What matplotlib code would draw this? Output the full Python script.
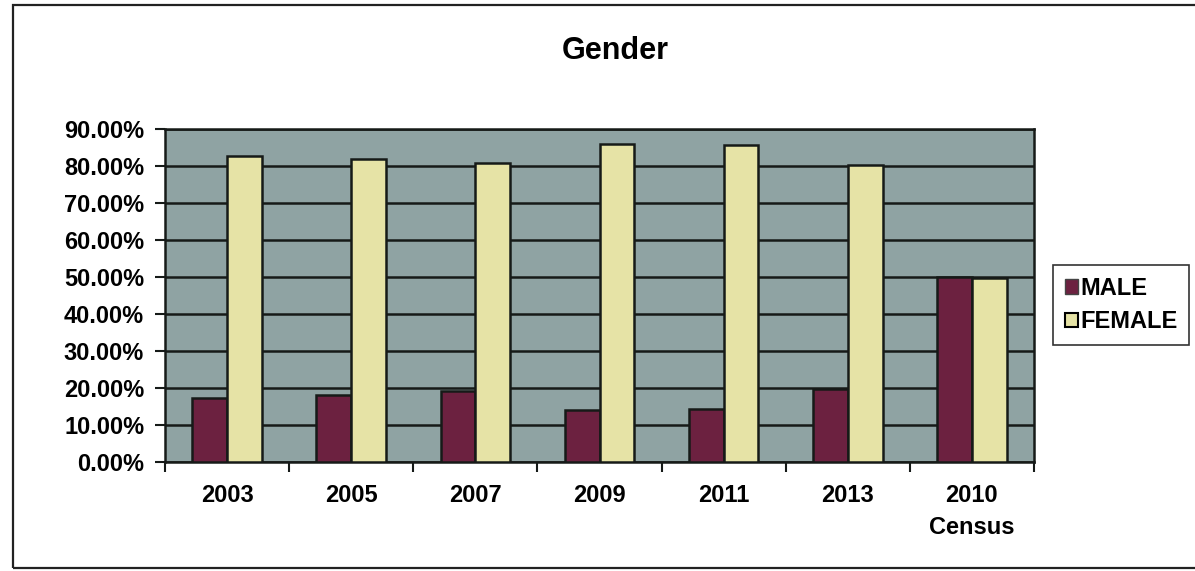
import numpy as np
import matplotlib
matplotlib.use("Agg")
import matplotlib.pyplot as plt
from matplotlib.patches import Patch, Rectangle
from matplotlib.ticker import FixedLocator, FuncFormatter

plt.rcParams['font.family'] = ['Liberation Sans', 'DejaVu Sans']
plt.rcParams['font.weight'] = 'bold'

# survey years plus the census reference
categories = ['2003', '2005', '2007', '2009', '2011', '2013', '2010\nCensus']
male = [17.3, 18.2, 19.1, 14.1, 14.4, 19.7, 50.1]
female = [82.7, 81.8, 80.9, 85.9, 85.6, 80.3, 49.8]

male_color = '#6c2140'
female_color = '#e6e3a6'
plot_bg = '#8fa3a3'
edge = '#161a18'

W, H = 1195, 571
fig = plt.figure(figsize=(W / 100, H / 100), dpi=100)
fig.patch.set_facecolor('white')

# outer chart frame
fig.patches.append(Rectangle((13 / W, 1 - 568 / H), 1.2, (568 - 5) / H,
                             transform=fig.transFigure, fill=False,
                             edgecolor='#222222', linewidth=1.6))

ax = fig.add_axes([165 / W, 1 - 462 / H, (1034 - 165) / W, (462 - 129) / H])
ax.set_facecolor(plot_bg)

x = np.arange(len(categories))
w = 0.28
ax.bar(x - w / 2, male, w, color=male_color, edgecolor=edge, linewidth=1.8,
       label='MALE', zorder=3)
ax.bar(x + w / 2, female, w, color=female_color, edgecolor=edge, linewidth=1.8,
       label='FEMALE', zorder=3)

ax.set_xlim(-0.5, len(categories) - 0.5)
ax.set_ylim(0, 90)
ax.set_yticks(np.arange(0, 91, 10))
ax.yaxis.set_major_formatter(FuncFormatter(lambda v, p: f'{v:.2f}%'))
ax.yaxis.grid(True, color=edge, linewidth=1.8, zorder=1)
ax.set_axisbelow(True)

ax.set_xticks(x)
ax.set_xticklabels(categories, fontsize=17, fontweight='bold', linespacing=1.5)
ax.xaxis.set_minor_locator(FixedLocator(np.arange(-0.5, len(categories), 1)))
ax.tick_params(axis='x', which='major', length=0, pad=16)
ax.tick_params(axis='x', which='minor', length=7, width=1.5, color=edge)
ax.tick_params(axis='y', length=7, width=1.5, color=edge, labelsize=17, pad=8)
for lab in ax.get_yticklabels():
    lab.set_fontweight('bold')

for s in ax.spines.values():
    s.set_color(edge)
    s.set_linewidth(1.8)

fig.text(615 / W, 1 - 51 / H, 'Gender', ha='center', va='center',
         fontsize=22, fontweight='bold')

handles = [Patch(facecolor=male_color, edgecolor='#444444', label='MALE'),
           Patch(facecolor=female_color, edgecolor='black', linewidth=1.5,
                 label='FEMALE')]
leg = fig.legend(handles=handles, loc='upper left',
                 bbox_to_anchor=(1053 / W, 1 - 265 / H),
                 prop={'size': 17, 'weight': 'bold'},
                 frameon=True, fancybox=False, edgecolor='black',
                 handlelength=0.55, handleheight=0.55, handletextpad=0.1,
                 borderpad=0.5, labelspacing=0.45, borderaxespad=0)
leg.get_frame().set_linewidth(1.2)

fig.savefig('out.png', dpi=100, facecolor='white')
